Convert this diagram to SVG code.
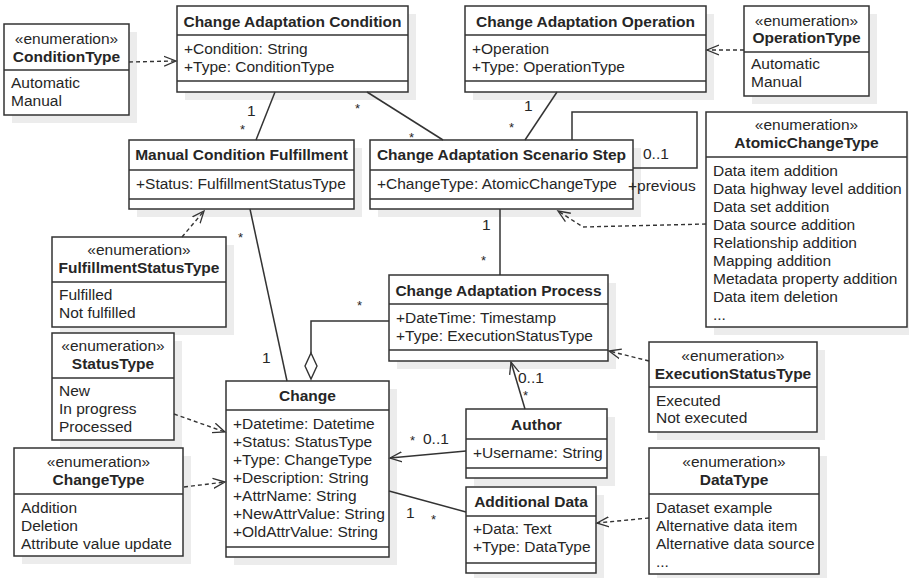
<svg xmlns="http://www.w3.org/2000/svg" width="909" height="578" viewBox="0 0 909 578">
<defs>
<marker id="open" viewBox="0 -7 14 14" refX="12" refY="0" markerWidth="14" markerHeight="14" markerUnits="userSpaceOnUse" orient="auto">
<path d="M0,-5 L12,0 L0,5" fill="none" stroke="#333" stroke-width="1.3"/>
</marker>
</defs>
<style>
.sh{fill:#ececec;stroke:none}
.bx{fill:#fff;stroke:#333;stroke-width:1.5}
.sp{stroke:#333;stroke-width:1.5}
text{font-family:"Liberation Sans",Arial,sans-serif;font-size:15.5px;fill:#262626}
.t{font-weight:bold;text-anchor:middle}
.c{text-anchor:middle}
.l{font-size:15.5px}
.a{font-size:13px}
.ln{fill:none;stroke:#333;stroke-width:1.5}
.dsh{fill:none;stroke:#333;stroke-width:1.4;stroke-dasharray:4,3}
</style>
<rect width="909" height="578" fill="#fff"/>

<g id="cond">
<rect class="sh" x="185" y="14" width="231" height="86"/>
<rect class="bx" x="177" y="6" width="231" height="86"/>
<line class="sp" x1="177" y1="35" x2="408" y2="35"/><line class="sp" x1="177" y1="81" x2="408" y2="81"/>
<text class="t" x="292.5" y="26.5">Change Adaptation Condition</text>
<text x="184" y="53.5">+Condition: String</text>
<text x="184" y="71.5">+Type: ConditionType</text>
</g>

<g id="condType">
<rect class="sh" x="12" y="32" width="125" height="91"/>
<rect class="bx" x="4" y="24" width="125" height="91"/>
<line class="sp" x1="4" y1="70" x2="129" y2="70"/>
<text class="c" x="66.5" y="43.5">«enumeration»</text>
<text class="t" x="66.5" y="61.5">ConditionType</text>
<text x="11" y="87.5">Automatic</text>
<text x="11" y="105.5">Manual</text>
</g>

<g id="op">
<rect class="sh" x="473" y="14" width="241" height="86"/>
<rect class="bx" x="465" y="6" width="241" height="86"/>
<line class="sp" x1="465" y1="35" x2="706" y2="35"/><line class="sp" x1="465" y1="81" x2="706" y2="81"/>
<text class="t" x="585.5" y="26.5">Change Adaptation Operation</text>
<text x="472" y="53.5">+Operation</text>
<text x="472" y="71.5">+Type: OperationType</text>
</g>

<g id="opType">
<rect class="sh" x="752" y="14" width="125" height="90"/>
<rect class="bx" x="744" y="6" width="125" height="90"/>
<line class="sp" x1="744" y1="52" x2="869" y2="52"/>
<text class="c" x="806.5" y="25.5">«enumeration»</text>
<text class="t" x="806.5" y="42.5">OperationType</text>
<text x="751" y="68.5">Automatic</text>
<text x="751" y="87">Manual</text>
</g>

<g id="mcf">
<rect class="sh" x="137" y="148" width="225" height="69"/>
<rect class="bx" x="129" y="140" width="225" height="69"/>
<line class="sp" x1="129" y1="170" x2="354" y2="170"/><line class="sp" x1="129" y1="199" x2="354" y2="199"/>
<text class="t" x="241.5" y="159.5">Manual Condition Fulfillment</text>
<text x="136" y="188.5">+Status: FulfillmentStatusType</text>
</g>

<g id="step">
<rect class="sh" x="378" y="148" width="263" height="69"/>
<rect class="bx" x="370" y="140" width="263" height="69"/>
<line class="sp" x1="370" y1="170" x2="633" y2="170"/><line class="sp" x1="370" y1="199" x2="633" y2="199"/>
<text class="t" x="501.5" y="159.5">Change Adaptation Scenario Step</text>
<text x="377" y="188.5">+ChangeType: AtomicChangeType</text>
</g>

<g id="atomic">
<rect class="sh" x="714" y="120" width="195" height="215"/>
<rect class="bx" x="706" y="112" width="201" height="215"/>
<line class="sp" x1="706" y1="157" x2="907" y2="157"/>
<text class="c" x="806.5" y="129.5">«enumeration»</text>
<text class="t" x="806.5" y="147.5">AtomicChangeType</text>
<text x="713" y="175.5">Data item addition</text>
<text x="713" y="193.5">Data highway level addition</text>
<text x="713" y="211.5">Data set addition</text>
<text x="713" y="229.5">Data source addition</text>
<text x="713" y="247.5">Relationship addition</text>
<text x="713" y="265.5">Mapping addition</text>
<text x="713" y="283.5">Metadata property addition</text>
<text x="713" y="301.5">Data item deletion</text>
<text x="713" y="319.5">...</text>
</g>

<g id="fst">
<rect class="sh" x="60" y="245" width="174" height="90"/>
<rect class="bx" x="52" y="237" width="174" height="90"/>
<line class="sp" x1="52" y1="282" x2="226" y2="282"/>
<text class="c" x="139" y="254.5">«enumeration»</text>
<text class="t" x="139" y="272.5">FulfillmentStatusType</text>
<text x="59" y="299.5">Fulfilled</text>
<text x="59" y="317.5">Not fulfilled</text>
</g>

<g id="process">
<rect class="sh" x="397" y="283" width="219" height="86"/>
<rect class="bx" x="389" y="275" width="219" height="86"/>
<line class="sp" x1="389" y1="304" x2="608" y2="304"/><line class="sp" x1="389" y1="350" x2="608" y2="350"/>
<text class="t" x="498.5" y="295.5">Change Adaptation Process</text>
<text x="396" y="322.5">+DateTime: Timestamp</text>
<text x="396" y="340.5">+Type: ExecutionStatusType</text>
</g>

<g id="statusType">
<rect class="sh" x="60" y="341" width="122" height="107"/>
<rect class="bx" x="52" y="333" width="122" height="107"/>
<line class="sp" x1="52" y1="378" x2="174" y2="378"/>
<text class="c" x="113" y="350.5">«enumeration»</text>
<text class="t" x="113" y="368.5">StatusType</text>
<text x="59" y="396">New</text>
<text x="59" y="414">In progress</text>
<text x="59" y="432">Processed</text>
</g>

<g id="execType">
<rect class="sh" x="657" y="350" width="168" height="90"/>
<rect class="bx" x="649" y="342" width="168" height="90"/>
<line class="sp" x1="649" y1="387" x2="817" y2="387"/>
<text class="c" x="733" y="360.5">«enumeration»</text>
<text class="t" x="733" y="378.5">ExecutionStatusType</text>
<text x="656" y="405.5">Executed</text>
<text x="656" y="423">Not executed</text>
</g>

<g id="change">
<rect class="sh" x="234" y="389" width="163" height="176"/>
<rect class="bx" x="226" y="381" width="163" height="176"/>
<line class="sp" x1="226" y1="410" x2="389" y2="410"/><line class="sp" x1="226" y1="547" x2="389" y2="547"/>
<text class="t" x="307.5" y="400.5">Change</text>
<text x="233" y="428.5">+Datetime: Datetime</text>
<text x="233" y="446.5">+Status: StatusType</text>
<text x="233" y="464.5">+Type: ChangeType</text>
<text x="233" y="482.5">+Description: String</text>
<text x="233" y="500.5">+AttrName: String</text>
<text x="233" y="518.5">+NewAttrValue: String</text>
<text x="233" y="536.5">+OldAttrValue: String</text>
</g>

<g id="author">
<rect class="sh" x="474" y="417" width="141" height="69"/>
<rect class="bx" x="466" y="409" width="141" height="69"/>
<line class="sp" x1="466" y1="439" x2="607" y2="439"/><line class="sp" x1="466" y1="468" x2="607" y2="468"/>
<text class="t" x="536.5" y="429.5">Author</text>
<text x="473" y="457.5">+Username: String</text>
</g>

<g id="changeType">
<rect class="sh" x="22" y="456" width="169" height="108"/>
<rect class="bx" x="14" y="448" width="169" height="108"/>
<line class="sp" x1="14" y1="494" x2="183" y2="494"/>
<text class="c" x="98.5" y="466.5">«enumeration»</text>
<text class="t" x="98.5" y="484.5">ChangeType</text>
<text x="21" y="512.5">Addition</text>
<text x="21" y="530.5">Deletion</text>
<text x="21" y="548.5">Attribute value update</text>
</g>

<g id="addData">
<rect class="sh" x="474" y="495" width="130" height="83"/>
<rect class="bx" x="466" y="487" width="130" height="86"/>
<line class="sp" x1="466" y1="516" x2="596" y2="516"/><line class="sp" x1="466" y1="563" x2="596" y2="563"/>
<text class="t" x="531" y="506.5">Additional Data</text>
<text x="473" y="533.5">+Data: Text</text>
<text x="473" y="551.5">+Type: DataType</text>
</g>

<g id="dataType">
<rect class="sh" x="657" y="456" width="170" height="122"/>
<rect class="bx" x="649" y="448" width="170" height="126"/>
<line class="sp" x1="649" y1="494" x2="819" y2="494"/>
<text class="c" x="734" y="466.5">«enumeration»</text>
<text class="t" x="734" y="484.5">DataType</text>
<text x="656" y="512.5">Dataset example</text>
<text x="656" y="530.5">Alternative data item</text>
<text x="656" y="548.5">Alternative data source</text>
<text x="656" y="566.5">...</text>
</g>

<g id="connectors">
<path class="dsh" d="M129,62 L176,61" marker-end="url(#open)"/>
<path class="dsh" d="M744,50 L707,50" marker-end="url(#open)"/>
<path class="ln" d="M275,92 L256,140"/>
<text class="l" x="247" y="116">1</text>
<text class="a" x="240" y="134">*</text>
<path class="ln" d="M367,92 L443,140"/>
<text class="a" x="355" y="113">*</text>
<text class="a" x="409" y="142">*</text>
<path class="ln" d="M557,92 L525,140"/>
<text class="l" x="524" y="111">1</text>
<text class="a" x="509" y="132">*</text>
<path class="ln" d="M572,140 V112 H697 V168 H633"/>
<text class="l" x="643" y="158.5">0..1</text>
<text class="l" x="628" y="190.5">+previous</text>
<path class="dsh" d="M706,224 L583,227 L558,211" marker-end="url(#open)"/>
<path class="ln" d="M500,209 V275"/>
<text class="l" x="482" y="229.5">1</text>
<text class="a" x="481" y="265">*</text>
<path class="ln" d="M389,321 H311 V353"/>
<path d="M311,353 L317,366 L311,379 L305,366 Z" fill="#fff" stroke="#333" stroke-width="1.4"/>
<text class="a" x="357" y="310">*</text>
<path class="ln" d="M250,209 L287,381"/>
<text class="a" x="238" y="242">*</text>
<text class="l" x="262" y="362.5">1</text>
<path class="dsh" d="M182,237 L204,211" marker-end="url(#open)"/>
<path class="dsh" d="M174,414 L225,432" marker-end="url(#open)"/>
<path class="dsh" d="M184,487 L225,482" marker-end="url(#open)"/>
<path class="ln" d="M525,409 L511,362" marker-end="url(#open)"/>
<text class="l" x="518" y="382.5">0..1</text>
<text class="a" x="523" y="400">*</text>
<path class="ln" d="M466,451 L390,458" marker-end="url(#open)"/>
<text class="a" x="410" y="445">*</text>
<text class="l" x="423" y="443.5">0..1</text>
<path class="ln" d="M389,491 L466,512"/>
<text class="l" x="406" y="517.5">1</text>
<text class="a" x="431" y="524">*</text>
<path class="dsh" d="M649,361 L609,351" marker-end="url(#open)"/>
<path class="dsh" d="M649,518 L597,523" marker-end="url(#open)"/>
</g>
</svg>
